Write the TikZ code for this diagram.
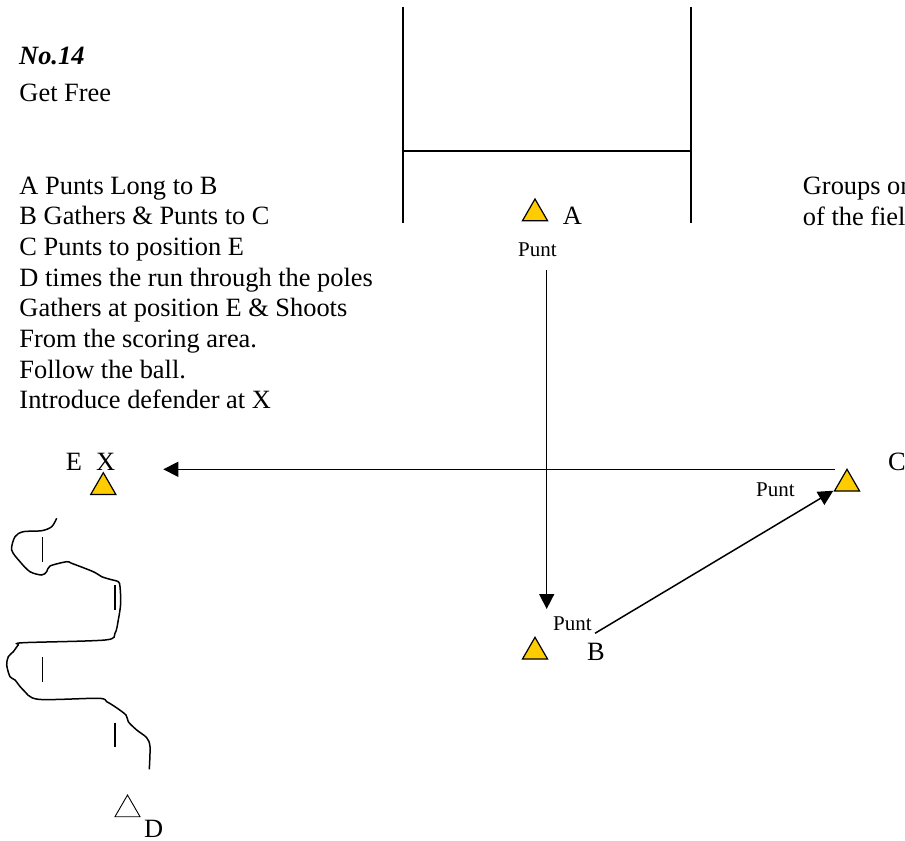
\documentclass[tikz,border=0pt]{standalone}
\usepackage{fontspec}
\setmainfont{Liberation Serif}
\usetikzlibrary{arrows.meta,shapes.geometric}
\definecolor{cone}{HTML}{FFCC00}
\newcommand{\bigfont}{\fontsize{26.4bp}{30.7bp}\selectfont}
\newcommand{\smallfont}{\fontsize{21bp}{24bp}\selectfont}

\begin{document}
\begin{tikzpicture}[x=1bp, y=-1bp,
	label text/.style={anchor=base west, inner sep=0pt, font=\bigfont},
	punt text/.style={anchor=base west, inner sep=0pt, font=\smallfont},
	player/.style={regular polygon, regular polygon sides=3, draw, line width=1.2bp, fill=cone, inner sep=0pt, minimum size=29bp},
	runner/.style={player, fill=white, line width=0.9bp},
	kick/.style={line width=1.5bp, -{Triangle[length=15bp, width=15bp]}},
	post/.style={line width=2bp},
	run/.style={line width=1.5bp}]
	\clip (0,0) rectangle (905,841);

	\node [label text, font=\bigfont\bfseries\itshape] (title) at (19,64) {No.14};
	\node [label text] (name) at (19.3,101.7) {Get Free};
	\foreach \t [count=\i from 0] in {A Punts Long to B, B Gathers \& Punts to C, C Punts to position E, D times the run through the poles, Gathers at position E \& Shoots, From the scoring area., Follow the ball., Introduce defender at X} {
		\node [label text] (line\i) at (19.3, 194+30.7*\i) {\t};
	}
	\node [label text] (groups1) at (802.7,194) {Groups on};
	\node [label text] (groups2) at (802.7,225) {of the field};

	\draw [post] (403,7) -- (403,223);
	\draw [post] (691,7) -- (691,223);
	\draw [post] (403,151) -- (691,151);

	\node [player] (A) at (535,213.5) {};
	\node [player] (B) at (535,651.8) {};
	\node [player] (C) at (847,483.8) {};
	\node [player] (X) at (103.3,487.2) {};
	\node [runner] (D) at (127.5,809.5) {};

	\node [label text] (labA) at (562.7,224) {A};
	\node [label text] (labB) at (587,660) {B};
	\node [label text] (labC) at (888,470) {C};
	\node [label text] (labE) at (65.7,470) {E};
	\node [label text] (labX) at (96,470) {X};
	\node [label text] (labD) at (144,837) {D};

	\node [punt text] (puntA) at (518,256) {Punt};
	\node [punt text] (puntB) at (553,630.7) {Punt};
	\node [punt text] (puntC) at (756,496) {Punt};

	\coordinate (kickA) at (546.7,270);
	\coordinate (catchB) at (546.7,609);
	\coordinate (kickB) at (595,633.3);
	\coordinate (catchC) at (833.3,490.7);
	\coordinate (kickC) at (835,469.3);
	\coordinate (catchE) at (163.3,469.3);
	\draw [kick] (kickA) -- (catchB);
	\draw [kick] (kickB) -- (catchC);
	\draw [kick] (kickC) -- (catchE);

	\draw [run] plot [smooth, tension=0.5] coordinates {(56.7,518.3) (51.7,526.7) (41.7,530.7) (23.3,531.7) (15,536.7) (11.7,550) (20,561.7) (30,571.7) (41.7,575) (46.7,571.7) (50,566) (66.7,561.7) (71.7,563.3) (93.3,571.7) (101.7,576.7) (110,579.3) (118.3,581.7) (120,586.7) (120.7,603.3) (118.3,620) (115,633.3) (105,640) (23.3,642.7) (18.3,645) (13.3,651.7) (8.3,656.7) (6.7,665) (10,676.7) (15,680) (23.3,690) (38.3,699.3) (98.3,698.3) (106.7,701.7) (115,706.7) (126,715) (128.3,721.7) (136.7,730) (146.7,737.7) (150,746.7) (149.3,769.3)};
	\foreach \x/\y in {42.7/537.3, 115/585, 42.7/657.3, 115/722.7} {
		\draw [run] (\x,\y) -- (\x,\y+24.5);
	}
\end{tikzpicture}
\end{document}
